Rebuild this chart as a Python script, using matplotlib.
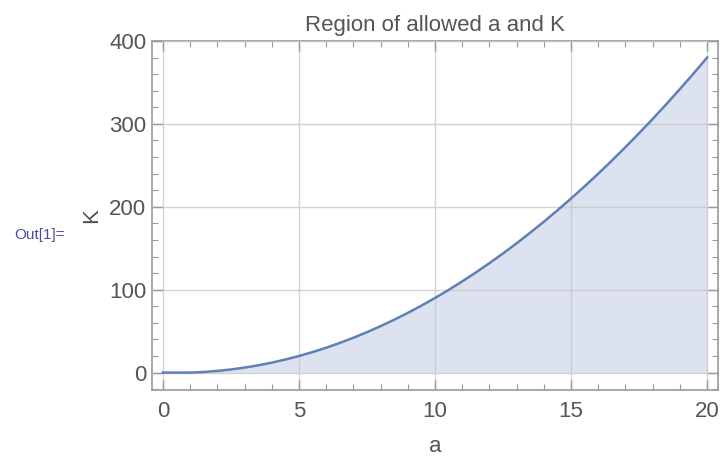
"""region of allowed a and K"""
import matplotlib
matplotlib.use('Agg')
import matplotlib.pyplot as plt
from matplotlib.ticker import MultipleLocator

# values
a_vals = [0, 0.5, 1, 1.5, 2, 2.5, 3, 3.5, 4, 4.5, 5, 5.5, 6, 6.5, 7, 7.5, 8, 8.5, 9, 9.5, 10,
          10.5, 11, 11.5, 12, 12.5, 13, 13.5, 14, 14.5, 15, 15.5, 16, 16.5, 17, 17.5, 18,
          18.5, 19, 19.5, 20]
k_vals = [0, 0, 0, 0.75, 2, 3.75, 6, 8.75, 12, 15.75, 20, 24.75, 30, 35.75, 42, 48.75, 56,
          63.75, 72, 80.75, 90, 99.75, 110, 120.75, 132, 143.75, 156, 168.75, 182, 195.75,
          210, 224.75, 240, 255.75, 272, 288.75, 306, 323.75, 342, 360.75, 380]
x_ticks = [0, 5, 10, 15, 20]
y_ticks = [0, 100, 200, 300, 400]

plt.rcParams['font.family'] = ['Liberation Sans', 'DejaVu Sans']
text_col = '#555555'
line_col = '#5e81b5'

fig = plt.figure(figsize=(7.2, 4.57), dpi=100)
ax = fig.add_axes([152 / 720, 67 / 457, 566 / 720, 349 / 457])

# shaded region under the curve, then the boundary
ax.fill_between(a_vals, 0, k_vals, color='#dce2ef', lw=0, zorder=1)
ax.plot(a_vals, k_vals, color=line_col, lw=1.8, zorder=3)

ax.set_xlim(-0.4, 20.4)
ax.set_ylim(-21, 400)
ax.set_xticks(x_ticks)
ax.set_yticks(y_ticks)
ax.xaxis.set_minor_locator(MultipleLocator(1))
ax.yaxis.set_minor_locator(MultipleLocator(20))

ax.grid(True, which='major', color='#c8c8c8', lw=1, alpha=0.8)
ax.set_axisbelow(False)
for line in ax.get_xgridlines() + ax.get_ygridlines():
    line.set_zorder(2)

for sp in ax.spines.values():
    sp.set_color('#999999')
    sp.set_linewidth(1.2)

ax.tick_params(which='both', direction='in', top=True, right=True,
               colors='#999999', labelcolor=text_col, labelsize=16)
ax.tick_params(which='major', length=7, width=1)
ax.tick_params(axis='y', which='major', pad=4)
ax.tick_params(axis='x', which='major', pad=8)
ax.tick_params(which='minor', length=4, width=0.8)

ax.set_title('Region of allowed a and K', color=text_col, fontsize=16, pad=7)
ax.set_xlabel('a', color=text_col, fontsize=16, labelpad=10)
ax.set_ylabel('K', color=text_col, fontsize=16, labelpad=5)

fig.text(14 / 720, 1 - 235 / 457, 'Out[1]=', color='#4b4ba6', fontsize=11, va='center')

fig.savefig('out.png', dpi=100)
